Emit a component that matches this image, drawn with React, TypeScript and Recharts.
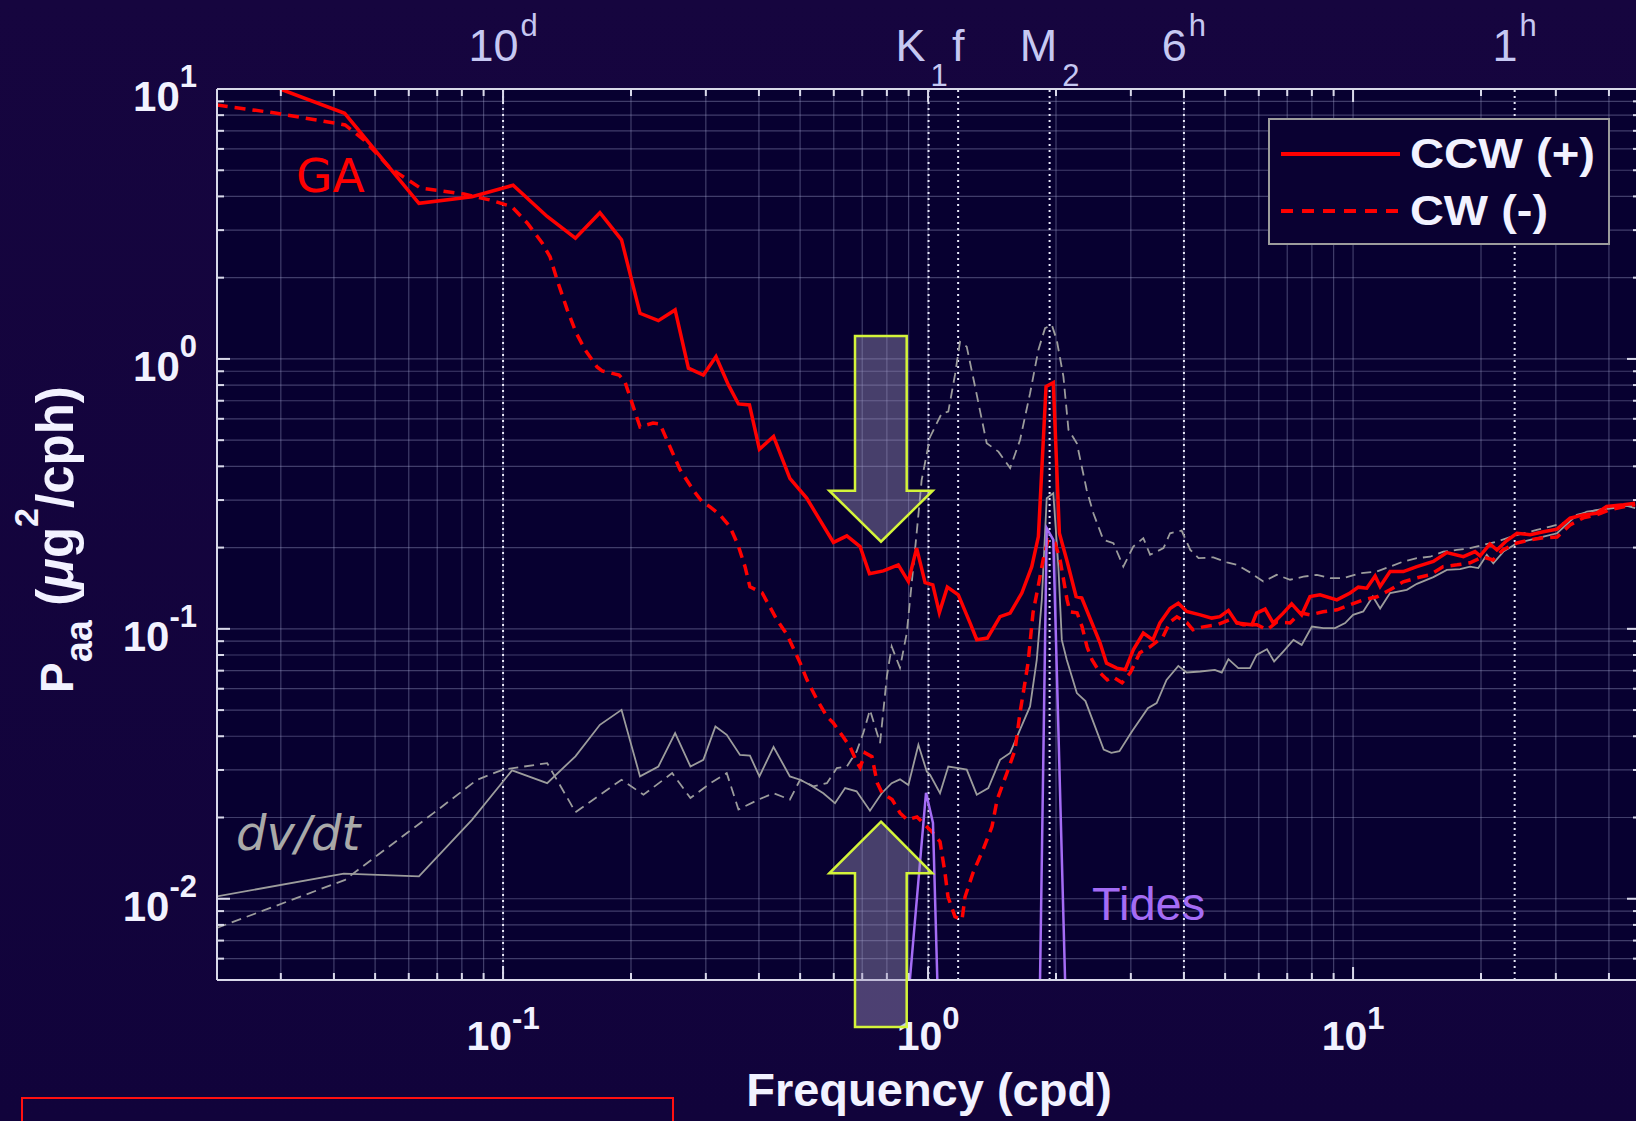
import React from 'react';
import { LineChart, Line, XAxis, YAxis, CartesianGrid, ReferenceLine } from 'recharts';

// ---------- axis ranges ----------
const F_MIN = 0.02123;
const F_MAX = 47.33;
const P_MIN = 0.005;
const P_MAX = 10;

// ---------- series: [frequency (cpd), power (ug^2/cph)] ----------
const gaCCW: [number, number][] = [
  [0.0299, 10.0], [0.0424, 8.13], [0.0634, 3.77], [0.0845, 3.99], [0.1056, 4.4], [0.127, 3.37],
  [0.148, 2.8], [0.169, 3.48], [0.19, 2.76], [0.21, 1.476], [0.232, 1.386], [0.254, 1.519],
  [0.273, 0.924], [0.296, 0.872], [0.317, 1.02], [0.339, 0.801], [0.358, 0.681], [0.38, 0.675],
  [0.401, 0.463], [0.433, 0.516], [0.473, 0.361], [0.518, 0.305], [0.599, 0.209], [0.644, 0.221],
  [0.692, 0.2018], [0.728, 0.16], [0.785, 0.164], [0.851, 0.1726], [0.899, 0.1497], [0.94, 0.199],
  [0.984, 0.1484], [1.026, 0.1455], [1.063, 0.1149], [1.11, 0.1427], [1.178, 0.1336], [1.256, 0.105],
  [1.302, 0.0911], [1.379, 0.0924], [1.477, 0.111], [1.56, 0.1143], [1.662, 0.1357], [1.754, 0.17],
  [1.818, 0.2197], [1.895, 0.79], [1.971, 0.817], [2.037, 0.226], [2.12, 0.18], [2.23, 0.1317],
  [2.3, 0.13], [2.54, 0.0885], [2.63, 0.0746], [2.78, 0.0715], [2.91, 0.0705], [3.04, 0.0836],
  [3.21, 0.0964], [3.38, 0.091], [3.51, 0.105], [3.71, 0.119], [3.88, 0.1245], [4.06, 0.116],
  [4.37, 0.1127], [4.65, 0.1096], [4.86, 0.111], [5.09, 0.117], [5.33, 0.105], [5.78, 0.1035],
  [5.93, 0.1143], [6.21, 0.1183], [6.49, 0.105], [6.85, 0.1143], [7.17, 0.1238], [7.57, 0.1127],
  [7.92, 0.1317], [8.36, 0.1336], [9.16, 0.128], [9.84, 0.1357], [10.29, 0.1427], [10.77, 0.1415],
  [11.27, 0.157], [11.58, 0.1435], [12.22, 0.163], [13.13, 0.163], [14.13, 0.17], [15.45, 0.1776],
  [16.62, 0.1917], [18.18, 0.185], [19.36, 0.1932], [19.9, 0.1863], [21.0, 0.2064], [21.8, 0.196],
  [23.0, 0.2123], [24.3, 0.226], [26.1, 0.223], [28.05, 0.229], [30.2, 0.234], [32.4, 0.257],
  [34.8, 0.2644], [37.4, 0.268], [39.5, 0.284], [43.3, 0.288], [46.1, 0.292],
];

const gaCW: [number, number][] = [
  [0.0212, 8.72], [0.0291, 8.15], [0.0425, 7.36], [0.0471, 6.47], [0.0542, 5.1], [0.0638, 4.3],
  [0.0809, 4.08], [0.0932, 3.88], [0.105, 3.66], [0.114, 3.19], [0.1236, 2.69], [0.129, 2.39],
  [0.134, 1.962], [0.1416, 1.519], [0.1486, 1.248], [0.156, 1.08], [0.1664, 0.934], [0.171, 0.903],
  [0.1875, 0.872], [0.1936, 0.822], [0.21, 0.56], [0.2254, 0.579], [0.234, 0.574], [0.243, 0.501],
  [0.261, 0.388], [0.28, 0.327], [0.294, 0.2954], [0.307, 0.283], [0.324, 0.2644], [0.342, 0.2386],
  [0.357, 0.2047], [0.371, 0.17], [0.381, 0.143], [0.407, 0.136], [0.441, 0.108], [0.466, 0.095],
  [0.5, 0.0748], [0.519, 0.0647], [0.548, 0.0546], [0.579, 0.0472], [0.598, 0.0449], [0.631, 0.0398],
  [0.655, 0.0366], [0.681, 0.0319], [0.692, 0.0306], [0.711, 0.0347], [0.738, 0.0336], [0.759, 0.0269],
  [0.779, 0.0247], [0.823, 0.0233], [0.859, 0.0208], [0.893, 0.0196], [0.942, 0.0201], [1.027, 0.01755],
  [1.067, 0.01626], [1.096, 0.01248], [1.114, 0.01017], [1.157, 0.00858], [1.202, 0.00836], [1.222, 0.01017],
  [1.276, 0.01248], [1.347, 0.0152], [1.414, 0.0185], [1.454, 0.0233], [1.534, 0.0293], [1.602, 0.0356],
  [1.646, 0.0489], [1.69, 0.0631], [1.719, 0.0748], [1.766, 0.1147], [1.815, 0.143], [1.865, 0.18],
  [1.916, 0.2136], [1.99, 0.208], [2.045, 0.18], [2.078, 0.156], [2.124, 0.128], [2.158, 0.1156],
  [2.242, 0.1147], [2.304, 0.1017], [2.366, 0.0858], [2.43, 0.0768], [2.54, 0.0687], [2.64, 0.0647],
  [2.72, 0.0664], [2.86, 0.0631], [2.99, 0.0687], [3.15, 0.0815], [3.33, 0.0858], [3.57, 0.0934],
  [3.71, 0.106], [3.85, 0.1108], [4.07, 0.1052], [4.2, 0.0992], [4.44, 0.1017], [4.79, 0.1035],
  [5.13, 0.108], [5.51, 0.1035], [5.94, 0.1035], [6.28, 0.0992], [6.62, 0.106], [7.11, 0.1052],
  [7.5, 0.1147], [7.92, 0.1127], [8.5, 0.1156], [9.17, 0.1176], [9.84, 0.1227], [10.56, 0.128],
  [11.39, 0.1314], [12.22, 0.1395], [13.12, 0.1493], [14.14, 0.1545], [15.18, 0.1585], [16.29, 0.17],
  [17.57, 0.1726], [18.85, 0.1756], [20.2, 0.1848], [21.35, 0.18], [22.5, 0.196], [24.3, 0.208],
  [26.1, 0.2136], [28.0, 0.2173], [30.2, 0.219], [32.4, 0.2427], [34.8, 0.2577], [37.4, 0.2644],
  [40.2, 0.276], [43.3, 0.283], [46.1, 0.288],
];

const dvdtCCW: [number, number][] = [
  [0.0212, 0.0102], [0.0422, 0.0124], [0.0634, 0.0121], [0.0845, 0.0196], [0.1, 0.0272], [0.105, 0.0299],
  [0.127, 0.0268], [0.148, 0.0337], [0.169, 0.0441], [0.19, 0.0501], [0.21, 0.0284], [0.232, 0.0309],
  [0.254, 0.0411], [0.276, 0.0309], [0.296, 0.0327], [0.316, 0.0435], [0.336, 0.0405], [0.361, 0.0341],
  [0.381, 0.0339], [0.401, 0.0284], [0.433, 0.0365], [0.473, 0.0284], [0.5, 0.0276], [0.528, 0.0264],
  [0.567, 0.0246], [0.604, 0.0226], [0.638, 0.0257], [0.679, 0.025], [0.73, 0.0212], [0.778, 0.0246],
  [0.821, 0.0268], [0.859, 0.0277], [0.899, 0.0264], [0.949, 0.0372], [0.993, 0.0296], [1.011, 0.0288],
  [1.067, 0.0246], [1.116, 0.0309], [1.178, 0.0305], [1.233, 0.0301], [1.302, 0.0243], [1.386, 0.0257],
  [1.477, 0.0327], [1.56, 0.0347], [1.646, 0.0423], [1.738, 0.0516], [1.802, 0.0768], [1.852, 0.128],
  [1.902, 0.305], [1.971, 0.318], [2.026, 0.17], [2.064, 0.091], [2.12, 0.0768], [2.239, 0.0578],
  [2.346, 0.054], [2.59, 0.0357], [2.7, 0.0347], [2.82, 0.0352], [3.02, 0.0417], [3.29, 0.0508],
  [3.45, 0.0531], [3.64, 0.0647], [3.88, 0.0729], [4.06, 0.0689], [4.37, 0.0695], [4.73, 0.0705],
  [4.91, 0.0689], [5.09, 0.0772], [5.37, 0.0715], [5.72, 0.0715], [5.93, 0.0801], [6.27, 0.0841],
  [6.52, 0.0757], [6.85, 0.0824], [7.24, 0.091], [7.57, 0.0872], [8.0, 0.102], [8.51, 0.1006],
  [9.07, 0.1006], [9.58, 0.105], [10.0, 0.1127], [10.57, 0.116], [11.13, 0.1317], [11.58, 0.119],
  [12.22, 0.1357], [13.38, 0.1395], [14.13, 0.1468], [15.45, 0.1554], [16.62, 0.1654], [17.86, 0.1664],
  [18.85, 0.17], [19.71, 0.168], [20.64, 0.188], [21.38, 0.175], [22.58, 0.1933], [24.3, 0.2077],
  [26.1, 0.2136], [28.05, 0.2197], [30.2, 0.226], [33.0, 0.257], [35.5, 0.272], [38.1, 0.276],
  [41.0, 0.28], [43.3, 0.288], [46.1, 0.28],
];

const dvdtCW: [number, number][] = [
  [0.0212, 0.00779], [0.0425, 0.01175], [0.0462, 0.013], [0.0687, 0.0208], [0.0869, 0.0276], [0.1, 0.0301],
  [0.127, 0.0318], [0.144, 0.0226], [0.148, 0.0209], [0.19, 0.0276], [0.214, 0.0243], [0.25, 0.0292],
  [0.276, 0.0236], [0.3075, 0.0268], [0.336, 0.0292], [0.358, 0.0214], [0.399, 0.0233], [0.433, 0.0246],
  [0.473, 0.0233], [0.5, 0.0276], [0.537, 0.0261], [0.578, 0.0268], [0.61, 0.0305], [0.644, 0.0309],
  [0.679, 0.0351], [0.704, 0.0411], [0.73, 0.0501], [0.771, 0.0377], [0.8, 0.0666], [0.821, 0.086],
  [0.859, 0.0717], [0.891, 0.0964], [0.94, 0.226], [0.966, 0.356], [1.011, 0.514], [1.077, 0.629],
  [1.116, 0.638], [1.157, 0.872], [1.189, 1.156], [1.233, 1.11], [1.29, 0.79], [1.374, 0.487],
  [1.464, 0.4535], [1.56, 0.394], [1.646, 0.501], [1.738, 0.746], [1.818, 1.08], [1.885, 1.3],
  [1.955, 1.336], [2.008, 1.176], [2.082, 0.86], [2.14, 0.546], [2.239, 0.487], [2.362, 0.327],
  [2.449, 0.268], [2.585, 0.2136], [2.73, 0.2077], [2.88, 0.17], [3.04, 0.2018], [3.21, 0.2168],
  [3.33, 0.188], [3.58, 0.199], [3.71, 0.226], [3.95, 0.2313], [4.14, 0.196], [4.33, 0.1827],
  [4.69, 0.184], [5.05, 0.1763], [5.33, 0.1726], [5.72, 0.1619], [6.15, 0.1497], [6.61, 0.1585],
  [7.11, 0.152], [7.64, 0.156], [8.22, 0.1585], [8.83, 0.154], [9.49, 0.154], [10.39, 0.1608],
  [11.37, 0.163], [12.22, 0.17], [13.13, 0.1776], [14.13, 0.1827], [15.18, 0.185], [16.31, 0.1933],
  [17.54, 0.196], [18.85, 0.199], [20.26, 0.2047], [21.8, 0.2105], [23.4, 0.2186], [25.2, 0.226],
  [27.05, 0.2326], [29.1, 0.2393], [31.3, 0.2463], [33.6, 0.2644], [36.1, 0.272], [39.5, 0.28],
  [43.3, 0.2855], [46.1, 0.284],
];

const tideK1: [number, number][] = [[0.902, 0.0046], [0.989, 0.0247], [1.027, 0.0191], [1.053, 0.0046]];
const tideM2: [number, number][] = [[1.833, 0.0046], [1.902, 0.236], [1.971, 0.2136], [2.104, 0.0046]];

// ---------- ticks / markers ----------
const X_TICKS = [
  0.03, 0.04, 0.05, 0.06, 0.07, 0.08, 0.09,
  0.1, 0.2, 0.3, 0.4, 0.5, 0.6, 0.7, 0.8, 0.9,
  1, 2, 3, 4, 5, 6, 7, 8, 9,
  10, 20, 30, 40,
];
const Y_TICKS = [
  0.006, 0.007, 0.008, 0.009,
  0.01, 0.02, 0.03, 0.04, 0.05, 0.06, 0.07, 0.08, 0.09,
  0.1, 0.2, 0.3, 0.4, 0.5, 0.6, 0.7, 0.8, 0.9,
  1, 2, 3, 4, 5, 6, 7, 8, 9, 10,
];
// period / tidal markers on the top axis
const markFreqs = [0.1, 1.0027, 1.177, 1.932, 4, 24];
const markMain = ['10', 'K', 'f', 'M', '6', '1'];
const markSup = ['d', '', '', '', 'h', 'h'];
const markSub = ['', '1', '', '2', '', ''];

const legendLabels = ['CCW (+)', 'CW (-)'];

const TOP_TICKS = Array.from(new Set([...X_TICKS, ...markFreqs])).sort((a, b) => a - b);

const rows = (pts: [number, number][]) => pts.map(([f, p]) => ({ f, p }));

const isMajor = (v: number) => Math.abs(Math.log10(v) - Math.round(Math.log10(v))) < 1e-6;
const inList = (list: number[], v: number) => list.some((t) => Math.abs(t - v) < 1e-9);

const AXIS = '#d9d9ea';
const TICK_TXT = '#f2f2ff';
const TOP_TXT = '#c6c8f2';
const SANS = '"Liberation Sans", Arial, Helvetica, sans-serif';

const BottomTick = (props: any) => {
  const { x, y, payload } = props;
  const v = payload.value;
  const maj = isMajor(v);
  return (
    <g>
      <line x1={x} x2={x} y1={y} y2={y - (maj ? 13 : 7)} stroke={AXIS} strokeWidth={2} />
      {maj && (
        <text x={x} y={y + 70} textAnchor="middle" fill={TICK_TXT} fontFamily={SANS} fontWeight="bold" fontSize={41}>
          10<tspan dy={-21} fontSize={31}>{String(Math.round(Math.log10(v)))}</tspan>
        </text>
      )}
    </g>
  );
};

const TopTick = (props: any) => {
  const { x, y, payload } = props;
  const v = payload.value;
  const idx = markFreqs.findIndex((t) => Math.abs(t - v) < 1e-9);
  return (
    <g>
      {inList(X_TICKS, v) && (
        <line x1={x} x2={x} y1={y} y2={y + (isMajor(v) ? 13 : 7)} stroke={AXIS} strokeWidth={2} />
      )}
      {idx >= 0 && (
        <text
          x={x + (markSub[idx] === '1' ? -7 : 0)}
          y={y - 28}
          textAnchor="middle"
          fill={TOP_TXT}
          fontFamily={SANS}
          fontSize={45}
        >
          {markMain[idx]}
          {markSup[idx] && <tspan dy={-25} dx={2} fontSize={31}>{markSup[idx]}</tspan>}
          {markSub[idx] && <tspan dy={25} dx={5} fontSize={31}>{markSub[idx]}</tspan>}
        </text>
      )}
    </g>
  );
};

const LeftTick = (props: any) => {
  const { x, y, payload } = props;
  const v = payload.value;
  const maj = isMajor(v);
  return (
    <g>
      <line x1={x} x2={x + (maj ? 13 : 7)} y1={y} y2={y} stroke={AXIS} strokeWidth={2} />
      {maj && (
        <text x={x - 20} y={y + 22} textAnchor="end" fill={TICK_TXT} fontFamily={SANS} fontWeight="bold" fontSize={42}>
          10<tspan dy={-24} fontSize={31}>{String(Math.round(Math.log10(v)))}</tspan>
        </text>
      )}
    </g>
  );
};

const RightTick = (props: any) => {
  const { x, y, payload } = props;
  const v = payload.value;
  const maj = isMajor(v);
  return <line x1={x} x2={x - (maj ? 13 : 7)} y1={y} y2={y} stroke={AXIS} strokeWidth={2} />;
};

const Arrow = ({ pts }: { pts: string }) => (
  <polygon points={pts} fill="rgba(160,150,190,0.42)" stroke="#d4f43a" strokeWidth={2.5} />
);

export default function App() {
  return (
    <div
      style={{
        position: 'fixed',
        left: 0,
        top: 0,
        width: 1636,
        height: 1121,
        overflow: 'hidden',
        background: 'linear-gradient(180deg, #16053f 0%, #11033b 100%)',
      }}
    >
      <div style={{ position: 'absolute', left: 0, top: 0 }}>
        <LineChart width={1700} height={1121} margin={{ top: 0, right: 0, bottom: 0, left: 0 }}>
          <CartesianGrid
            stroke="rgba(165,170,210,0.36)"
            strokeWidth={1.2}
            fill="#070030"
            fillOpacity={1}
          />
          <XAxis
            type="number"
            dataKey="f"
            scale="log"
            domain={[F_MIN, F_MAX]}
            allowDataOverflow
            ticks={X_TICKS}
            interval={0}
            tickSize={0}
            tickMargin={0}
            tickLine={false}
            tick={BottomTick}
            height={141}
            axisLine={{ stroke: AXIS, strokeWidth: 2 }}
          />
          <XAxis
            xAxisId="top"
            orientation="top"
            type="number"
            dataKey="f"
            scale="log"
            domain={[F_MIN, F_MAX]}
            allowDataOverflow
            ticks={TOP_TICKS}
            interval={0}
            tickSize={0}
            tickMargin={0}
            tickLine={false}
            tick={TopTick}
            height={89}
            axisLine={{ stroke: AXIS, strokeWidth: 2 }}
          />
          <YAxis
            type="number"
            scale="log"
            domain={[P_MIN, P_MAX]}
            allowDataOverflow
            ticks={Y_TICKS}
            interval={0}
            tickSize={0}
            tickMargin={0}
            tickLine={false}
            tick={LeftTick}
            width={217}
            axisLine={{ stroke: AXIS, strokeWidth: 2 }}
          />
          <YAxis
            yAxisId="right"
            orientation="right"
            type="number"
            scale="log"
            domain={[P_MIN, P_MAX]}
            allowDataOverflow
            ticks={Y_TICKS}
            interval={0}
            tickSize={0}
            tickMargin={0}
            tickLine={false}
            tick={RightTick}
            width={60}
            axisLine={{ stroke: AXIS, strokeWidth: 2 }}
          />
          {markFreqs.map((f) => (
            <ReferenceLine key={f} x={f} stroke="#e6e6f6" strokeWidth={2} strokeDasharray="2 4" />
          ))}
          <Line data={rows(dvdtCW)} dataKey="p" type="linear" stroke="#9c9c9c" strokeWidth={1.8} strokeDasharray="10 6" dot={false} isAnimationActive={false} />
          <Line data={rows(dvdtCCW)} dataKey="p" type="linear" stroke="#9c9c9c" strokeWidth={1.8} dot={false} isAnimationActive={false} />
          <Line data={rows(gaCW)} dataKey="p" type="linear" stroke="#ff0000" strokeWidth={3.5} strokeDasharray="11 7" dot={false} isAnimationActive={false} />
          <Line data={rows(gaCCW)} dataKey="p" type="linear" stroke="#ff0000" strokeWidth={3.5} dot={false} isAnimationActive={false} />
          <Line data={rows(tideK1)} dataKey="p" type="linear" stroke="#a46cf5" strokeWidth={2.5} dot={false} isAnimationActive={false} />
          <Line data={rows(tideM2)} dataKey="p" type="linear" stroke="#a46cf5" strokeWidth={2.5} dot={false} isAnimationActive={false} />
        </LineChart>
      </div>

      <svg width={1636} height={1121} style={{ position: 'absolute', left: 0, top: 0, pointerEvents: 'none' }}>
        {/* annotations */}
        <text x={296} y={192} fill="#ff0000" fontFamily='"DejaVu Sans", sans-serif' fontSize={47}>GA</text>
        <text x={236} y={850} fill="#a9a9a9" fontFamily='"DejaVu Sans", sans-serif' fontStyle="italic" fontSize={48}>dv/dt</text>
        <text x={1092} y={920} fill="#a46cf5" fontFamily={SANS} fontSize={47}>Tides</text>

        <Arrow pts="855,336 906.7,336 906.7,490.7 932.7,490.7 881,541.7 829.3,490.7 855,490.7" />
        <Arrow pts="881,821.7 932.3,873.3 906.7,873.3 906.7,1027 855,1027 855,873.3 829.3,873.3" />

        {/* legend */}
        <rect x={1269} y={119} width={340} height={125} fill="#0a0132" stroke="#9c9c9c" strokeWidth={2} />
        <line x1={1281} x2={1400} y1={154} y2={154} stroke="#ff0000" strokeWidth={4} />
        <line x1={1281} x2={1400} y1={211} y2={211} stroke="#ff0000" strokeWidth={4} strokeDasharray="12 9" />
        <text x={1410} y={168} fill={TICK_TXT} fontFamily={SANS} fontWeight="bold" fontSize={42} textLength={185} lengthAdjust="spacingAndGlyphs">{legendLabels[0]}</text>
        <text x={1410} y={225} fill={TICK_TXT} fontFamily={SANS} fontWeight="bold" fontSize={42} textLength={138} lengthAdjust="spacingAndGlyphs">{legendLabels[1]}</text>

        {/* axis titles */}
        <text x={929} y={1106} textAnchor="middle" fill={TICK_TXT} fontFamily={SANS} fontWeight="bold" fontSize={47}>Frequency (cpd)</text>
        <text transform="translate(73,693) rotate(-90)" fill={TICK_TXT} fontFamily={SANS} fontWeight="bold" fontSize={46}>
          P<tspan dy={19} fontSize={38}>aa</tspan>
          <tspan dy={-19} fontSize={51}> (</tspan>
          <tspan fontStyle="italic" fontSize={51}>μ</tspan>
          <tspan fontSize={51}>g</tspan>
          <tspan dy={-35} fontSize={34}>2</tspan>
          <tspan dy={35} fontSize={51}>/cph)</tspan>
        </text>

        {/* red frame at bottom-left */}
        <rect x={22} y={1098} width={651} height={60} fill="none" stroke="#ff1010" strokeWidth={2} />
      </svg>
    </div>
  );
}
